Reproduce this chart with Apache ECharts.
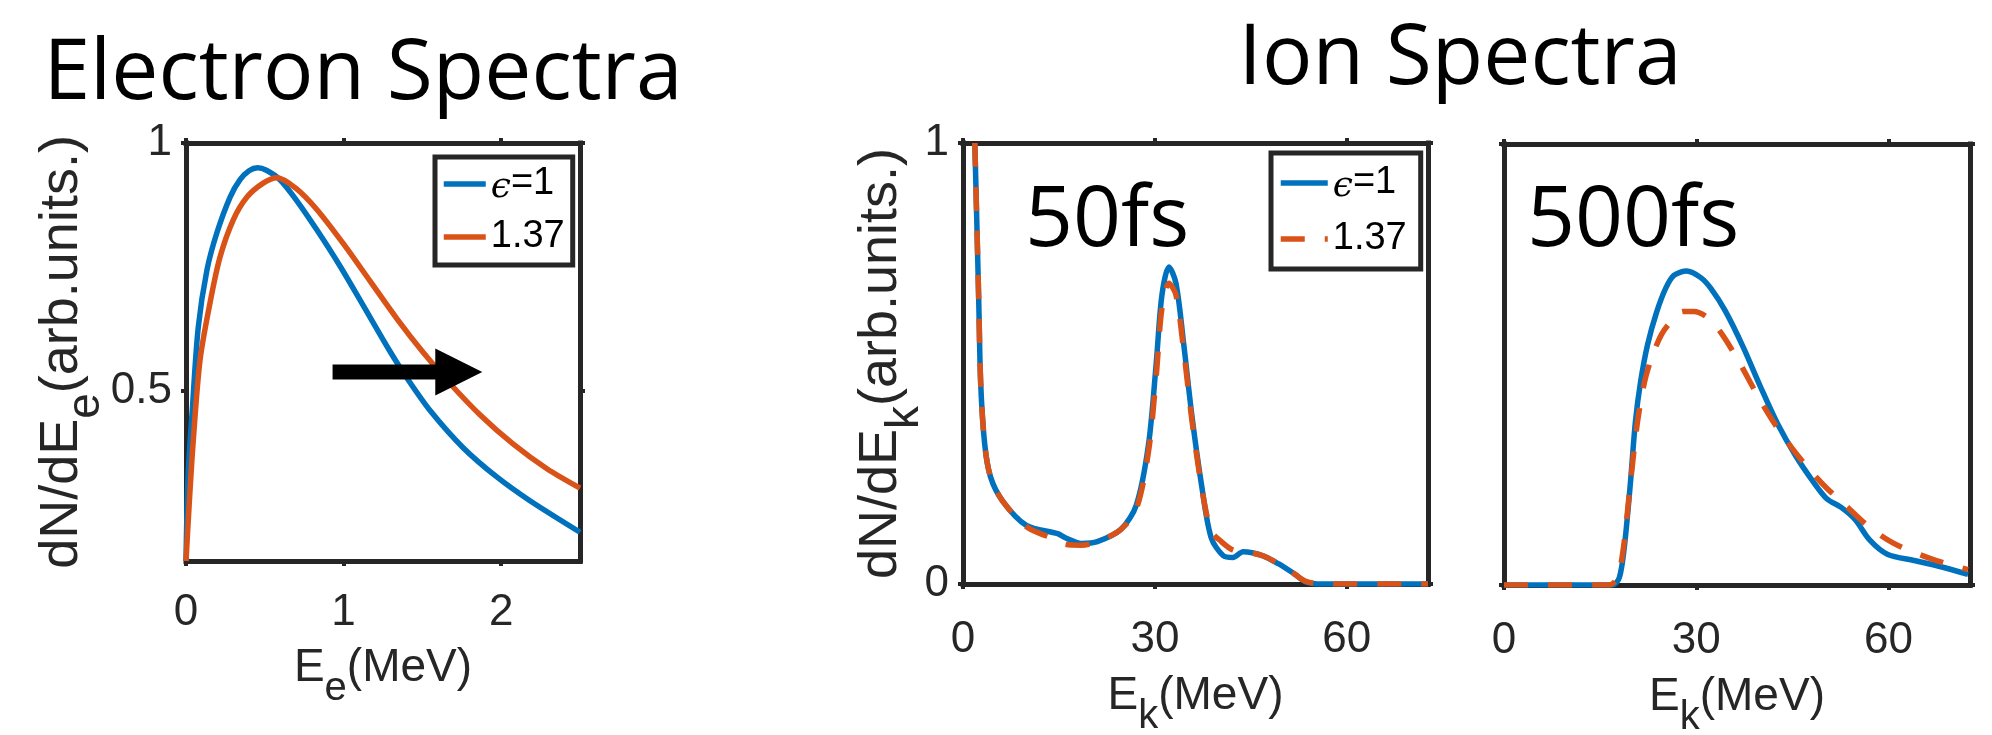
<!DOCTYPE html>
<html>
<head>
<meta charset="utf-8">
<title>Electron / Ion Spectra</title>
<script src="https://cdn.jsdelivr.net/npm/echarts@6/dist/echarts.min.js"></script>
<style>
  html, body { margin: 0; padding: 0; background: #fff; }
  #spectraChart { width: 1992px; height: 735px; }
</style>
</head>
<body>
<div id="spectraChart"></div>
<script>
// ---- data: [energy, dN/dE] ----
const electronEps1 = [[0, 0.157], [0.013, 0.326], [0.04, 0.462], [0.078, 0.629], [0.133, 0.744], [0.196, 0.819],
  [0.28, 0.891], [0.343, 0.926], [0.40, 0.944], [0.455, 0.95], [0.51, 0.945], [0.596, 0.926], [0.70, 0.885],
  [0.83, 0.825], [0.977, 0.752], [1.125, 0.672], [1.294, 0.58], [1.40, 0.527], [1.55, 0.46], [1.76, 0.385],
  [1.97, 0.327], [2.18, 0.279], [2.5, 0.215]]
const electronEps137 = [[0, 0.157], [0.02, 0.27], [0.045, 0.395], [0.089, 0.562], [0.152, 0.677], [0.216, 0.77],
  [0.30, 0.845], [0.387, 0.891], [0.49, 0.919], [0.577, 0.93], [0.70, 0.908], [0.83, 0.866], [0.996, 0.798],
  [1.167, 0.722], [1.34, 0.645], [1.504, 0.578], [1.675, 0.515], [1.865, 0.452], [2.075, 0.393], [2.29, 0.343],
  [2.5, 0.304]]

const ion50Eps1 = [[1.85, 1.0], [2.16, 0.821], [2.47, 0.636], [2.77, 0.453], [3.4, 0.316], [4.3, 0.243], [6.2, 0.188],
  [9.9, 0.133], [14.8, 0.114], [16.0, 0.105], [18.5, 0.092], [21.0, 0.096], [24.7, 0.124], [27.1, 0.179],
  [29.0, 0.316], [30.2, 0.499], [31.1, 0.655], [32.2, 0.719], [33.3, 0.682], [34.5, 0.545], [35.8, 0.38],
  [37.3, 0.224], [38.8, 0.105], [40.7, 0.064], [42.2, 0.06], [43.8, 0.073], [46.9, 0.064], [49.3, 0.046],
  [51.8, 0.023], [53.6, 0.005], [56.1, 0], [72.7, 0]]
const ion50Eps137 = [[1.85, 1.0], [2.16, 0.821], [2.47, 0.636], [2.77, 0.453], [3.4, 0.316], [4.3, 0.243], [6.2, 0.188],
  [9.9, 0.13], [12.5, 0.112], [14.8, 0.10], [16.0, 0.09], [18.5, 0.088], [21.0, 0.096], [24.7, 0.124], [27.1, 0.17],
  [29.0, 0.30], [30.2, 0.47], [31.1, 0.625], [32.2, 0.682], [33.3, 0.655], [34.5, 0.53], [35.8, 0.37], [37.3, 0.22],
  [38.8, 0.12], [40.4, 0.096], [42.2, 0.077], [44.1, 0.073], [46.9, 0.064], [49.3, 0.046], [51.8, 0.023],
  [53.6, 0.006], [56.1, 0], [72.7, 0]]

const ion500Eps1 = [[0, 0], [16.9, 0], [18.0, 0.017], [18.8, 0.09], [19.7, 0.228], [20.5, 0.37], [21.3, 0.46],
  [22.4, 0.545], [23.8, 0.618], [25.2, 0.672], [26.5, 0.702], [28.5, 0.712], [30.7, 0.697], [32.3, 0.672],
  [34.5, 0.622], [37.3, 0.54], [40.0, 0.45], [42.7, 0.365], [45.5, 0.293], [48.2, 0.235], [50.4, 0.195],
  [52.6, 0.176], [54.8, 0.148], [57.0, 0.103], [59.8, 0.07], [64.2, 0.055], [68.0, 0.042], [72.4, 0.024]]
const ion500Eps137 = [[0, 0], [16.4, 0], [17.7, 0.017], [18.6, 0.081], [19.7, 0.228], [20.8, 0.367], [21.9, 0.459],
  [23.0, 0.514], [24.6, 0.569], [26.3, 0.601], [27.9, 0.62], [29.6, 0.62], [31.8, 0.606], [34.0, 0.569],
  [36.7, 0.505], [39.5, 0.431], [42.2, 0.366], [44.9, 0.311], [47.7, 0.261], [50.4, 0.219], [53.2, 0.182],
  [55.9, 0.145], [58.7, 0.113], [61.4, 0.09], [66.9, 0.058], [72.4, 0.035]]

// tick values
const electronXTicks = [0, 1, 2]
const electronYTicks = [0.5, 1]
const ionXTicks = [0, 30, 60]
const ionYTicks = [0, 1]

const legendLabels = { eEps1: '{eps|ϵ}=1', eEps137: '1.37', iEps1: '{eps|ϵ}=1', iEps137: '1.37' }

// arrow showing the shift, in data units of the electron plot
const arrowFrom = [0.93, 0.538]
const arrowTo = [1.88, 0.538]

const blue = '#0072BD'
const orange = '#D95319'
const axisColor = '#262626'
const tickFont = 'Liberation Sans'

const xNameRich = {
  m: { fontSize: 46, fontFamily: tickFont, color: axisColor, lineHeight: 52, verticalAlign: 'top' },
  s: { fontSize: 40, fontFamily: tickFont, color: axisColor, lineHeight: 52, verticalAlign: 'top', padding: [24, 0, 0, 0] }
}
const yNameRich = {
  m: { fontSize: 54, fontFamily: tickFont, color: axisColor, lineHeight: 60, verticalAlign: 'top' },
  s: { fontSize: 46, fontFamily: tickFont, color: axisColor, lineHeight: 60, verticalAlign: 'top', padding: [28, 0, 0, 0] }
}

function frameLine () {
  return { show: true, onZero: false, lineStyle: { color: axisColor, width: 5, cap: 'square' } }
}

function tick (values) {
  return { show: true, inside: false, length: 5, customValues: values, lineStyle: { color: axisColor, width: 4 } }
}

function xAxes (grid, max, ticks, name, margin, gap) {
  return [
    {
      gridIndex: grid, type: 'value', position: 'bottom', min: 0, max: max,
      name: name, nameLocation: 'middle', nameGap: gap, nameMoveOverlap: false,
      nameTextStyle: { rich: xNameRich },
      axisLine: frameLine(), axisTick: tick(ticks),
      axisLabel: { customValues: ticks, margin: margin, fontSize: 44, color: axisColor, fontFamily: tickFont },
      splitLine: { show: false }
    },
    {
      gridIndex: grid, type: 'value', position: 'top', min: 0, max: max,
      axisLine: frameLine(), axisTick: tick(ticks), axisLabel: { show: false }, splitLine: { show: false }
    }
  ]
}

function yAxes (grid, min, ticks, showLabels, name, gap) {
  return [
    {
      gridIndex: grid, type: 'value', position: 'left', min: min, max: 1,
      name: name, nameLocation: 'middle', nameGap: gap, nameMoveOverlap: false,
      nameTextStyle: { rich: yNameRich },
      axisLine: frameLine(), axisTick: tick(ticks),
      axisLabel: { show: showLabels, customValues: ticks, margin: 14, fontSize: 44, color: axisColor, fontFamily: tickFont },
      splitLine: { show: false }
    },
    {
      gridIndex: grid, type: 'value', position: 'right', min: min, max: 1,
      axisLine: frameLine(), axisTick: tick(ticks), axisLabel: { show: false }, splitLine: { show: false }
    }
  ]
}

function curve (name, axisIdx, data, color, dashed) {
  return {
    name: name, type: 'line', xAxisIndex: axisIdx, yAxisIndex: axisIdx, data: data,
    symbol: 'circle', symbolSize: 0, showSymbol: false, smooth: 0.3,
    color: color,
    lineStyle: { color: color, width: 5.5, type: dashed ? [24, 20] : 'solid' },
    emphasis: { disabled: true }
  }
}

function legendBox (names, left, top, padding, gap, itemWidth) {
  return {
    data: names, left: left, top: top, orient: 'vertical', selectedMode: false,
    padding: padding, itemGap: gap, itemWidth: itemWidth, itemHeight: 38,
    borderColor: axisColor, borderWidth: 5, borderRadius: 0, backgroundColor: '#fff',
    itemStyle: { color: 'rgba(0,0,0,0)', borderWidth: 0 },
    lineStyle: { width: 5.5 },
    formatter: function (n) { return legendLabels[n] },
    textStyle: {
      fontSize: 38, lineHeight: 38, color: '#000', fontFamily: tickFont,
      rich: { eps: { fontSize: 36, fontFamily: 'DejaVu Serif', fontStyle: 'italic', color: '#000', padding: [8, 0, 0, 0] } }
    }
  }
}

const bigFont = '84px "Open Sans"'

const option = {
  animation: false,
  backgroundColor: '#fff',
  grid: [
    { left: 186, top: 143, width: 394, height: 418, outerBoundsMode: 'none' },
    { left: 963, top: 143, width: 465, height: 441, outerBoundsMode: 'none' },
    { left: 1504, top: 144, width: 466, height: 441, outerBoundsMode: 'none' }
  ],
  xAxis: [
    ...xAxes(0, 2.5, electronXTicks, '{m|E}{s|e}{m|(MeV)}', 30, 84),
    ...xAxes(1, 72.7, ionXTicks, '{m|E}{s|k}{m|(MeV)}', 34, 89),
    ...xAxes(2, 72.7, ionXTicks, '{m|E}{s|k}{m|(MeV)}', 34, 89)
  ],
  yAxis: [
    ...yAxes(0, 0.157, electronYTicks, true, '{m|dN/dE}{s|e}{m|(arb.units.)}', 91),
    ...yAxes(1, 0, ionYTicks, true, '{m|dN/dE}{s|k}{m|(arb.units.)}', 49),
    ...yAxes(2, 0, ionYTicks, false, '', 0)
  ],
  legend: [
    legendBox(['eEps1', 'eEps137'], 435, 157, [8, 8, 9, 6], 12, 42),
    legendBox(['iEps1', 'iEps137'], 1271, 153, [11, 14, 11, 7], 15, 47)
  ],
  series: [
    curve('eEps1', 0, electronEps1, blue, false),
    curve('eEps137', 0, electronEps137, orange, false),
    curve('iEps1', 2, ion50Eps1, blue, false),
    curve('iEps137', 2, ion50Eps137, orange, true),
    curve('iEps1', 4, ion500Eps1, blue, false),
    curve('iEps137', 4, ion500Eps137, orange, true)
  ],
  graphic: [
    { id: 'titleElectron', type: 'text', style: { text: 'Electron Spectra', x: 363, y: 75, font: bigFont, fill: '#000', textAlign: 'center', textVerticalAlign: 'middle' } },
    { id: 'titleIon', type: 'text', style: { text: 'Ion Spectra', x: 1460, y: 60, font: bigFont, fill: '#000', textAlign: 'center', textVerticalAlign: 'middle' } },
    { id: 'label50', type: 'text', z: 10, style: { text: '50fs', x: 1025, y: 222, font: bigFont, fill: '#000', textAlign: 'left', textVerticalAlign: 'middle' } },
    { id: 'label500', type: 'text', z: 10, style: { text: '500fs', x: 1527, y: 222, font: bigFont, fill: '#000', textAlign: 'left', textVerticalAlign: 'middle' } }
  ]
}

const spectraChart = echarts.init(document.getElementById('spectraChart'))
spectraChart.setOption(option)

// arrow: place it from data coordinates
const p0 = spectraChart.convertToPixel({ xAxisIndex: 0, yAxisIndex: 0 }, arrowFrom)
const p1 = spectraChart.convertToPixel({ xAxisIndex: 0, yAxisIndex: 0 }, arrowTo)
const shaftHalf = 7.5
const headHalf = 23.5
const headLen = 47
const hx = p1[0] - headLen
spectraChart.setOption({
  graphic: [{
    id: 'arrow', type: 'polygon', z: 20,
    shape: {
      points: [
        [p0[0], p0[1] - shaftHalf], [hx, p0[1] - shaftHalf], [hx, p1[1] - headHalf], [p1[0], p1[1]],
        [hx, p1[1] + headHalf], [hx, p0[1] + shaftHalf], [p0[0], p0[1] + shaftHalf]
      ]
    },
    style: { fill: '#000' }
  }]
})

window.onresize = function () {
  spectraChart.resize()
}
</script>
</body>
</html>
